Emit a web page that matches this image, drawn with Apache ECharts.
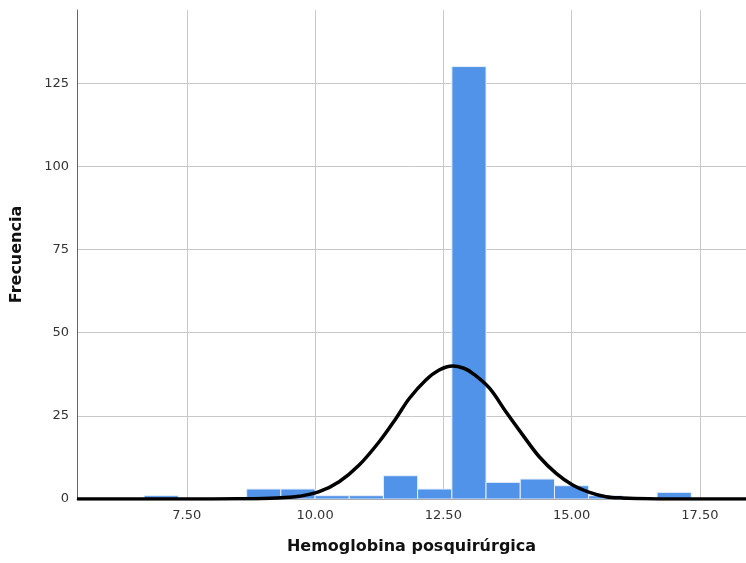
<!DOCTYPE html>
<html>
<head>
<meta charset="utf-8">
<script src="https://cdn.jsdelivr.net/npm/echarts@6/dist/echarts.min.js"></script>
<style>
  html, body { margin: 0; padding: 0; background: #fff; }
  #chart { width: 746px; height: 563px; }
</style>
</head>
<body>
<div id="chart"></div>
<script>
// histogram bins (lower edge, upper edge, count)
const binLo = [6.667, 8.667, 9.333, 10.0, 10.667, 11.333, 12.0, 12.667, 13.333, 14.0, 14.667, 15.333, 16.667];
const binHi = [7.333, 9.333, 10.0, 10.667, 11.333, 12.0, 12.667, 13.333, 14.0, 14.667, 15.333, 16.0, 17.333];
const freq = [1, 3, 3, 1, 1, 7, 3, 130, 5, 6, 4, 1, 2];

// normal curve, points
const curveX = [5.36, 7.5, 8.5, 9.0, 9.5, 9.69, 10.08, 10.47, 10.86, 11.25, 11.58, 11.84, 12.16, 12.42, 12.68,
  12.9, 13.07, 13.4, 13.72, 14.05, 14.37, 14.7, 15.02, 15.35, 15.67, 16.0, 16.5, 17.0, 18.4];
const curveY = [0, 0, 0.05, 0.15, 0.5, 0.8, 2.2, 5.2, 10.2, 17.2, 24.3, 30.3, 35.8, 38.8, 40.0,
  39.3, 37.8, 33.3, 26.2, 19.2, 12.7, 7.7, 4.2, 2.0, 0.7, 0.3, 0.05, 0, 0];

const xTicks = [7.5, 10, 12.5, 15, 17.5];

const chart = echarts.init(document.getElementById('chart'));

const barData = binLo.map((lo, i) => [lo, binHi[i], freq[i]]);
const lineData = curveX.map((x, i) => [x, curveY[i]]);

const option = {
  animation: false,
  backgroundColor: '#fff',
  textStyle: { fontFamily: 'DejaVu Sans' },
  grid: { left: 77, right: 0, top: 10, bottom: 64 },
  xAxis: {
    type: 'value',
    min: 5.36,
    max: 18.4,
    name: 'Hemoglobina posquirúrgica',
    nameLocation: 'middle',
    nameGap: 40,
    nameTextStyle: { fontSize: 16, fontWeight: 'bold', color: '#111' },
    axisLine: { show: true, lineStyle: { color: '#666', width: 1 } },
    axisTick: { show: false, customValues: xTicks },
    axisLabel: {
      customValues: xTicks,
      fontSize: 13,
      color: '#333',
      margin: 10,
      formatter: (v) => v.toFixed(2)
    },
    splitLine: { show: true, lineStyle: { color: '#c8c8c8', width: 1 } }
  },
  yAxis: {
    type: 'value',
    min: 0,
    max: 147,
    interval: 25,
    name: 'Frecuencia',
    nameLocation: 'middle',
    nameGap: 52,
    nameTextStyle: { fontSize: 16, fontWeight: 'bold', color: '#111' },
    axisLine: { show: true, lineStyle: { color: '#666', width: 1 } },
    axisTick: { show: false },
    axisLabel: {
      fontSize: 13,
      color: '#333',
      margin: 8,
      showMaxLabel: false,
      formatter: (v) => (v % 25 === 0 ? String(v) : '')
    },
    splitLine: { show: true, showMaxLine: false, lineStyle: { color: '#c8c8c8', width: 1 } }
  },
  series: [
    {
      type: 'custom',
      data: barData,
      encode: { x: [0, 1], y: 2 },
      z: 2,
      renderItem: function (params, api) {
        const p0 = api.coord([api.value(0), api.value(2)]);
        const p1 = api.coord([api.value(1), 0]);
        return {
          type: 'rect',
          shape: { x: p0[0], y: p0[1], width: p1[0] - p0[0], height: p1[1] - p0[1] },
          style: { fill: '#5093e8', stroke: '#e6effb', lineWidth: 1 }
        };
      }
    },
    {
      type: 'line',
      data: lineData,
      smooth: 0.35,
      symbol: 'none',
      z: 5,
      lineStyle: { color: '#000', width: 3.5 }
    }
  ]
};

chart.setOption(option);
</script>
</body>
</html>
